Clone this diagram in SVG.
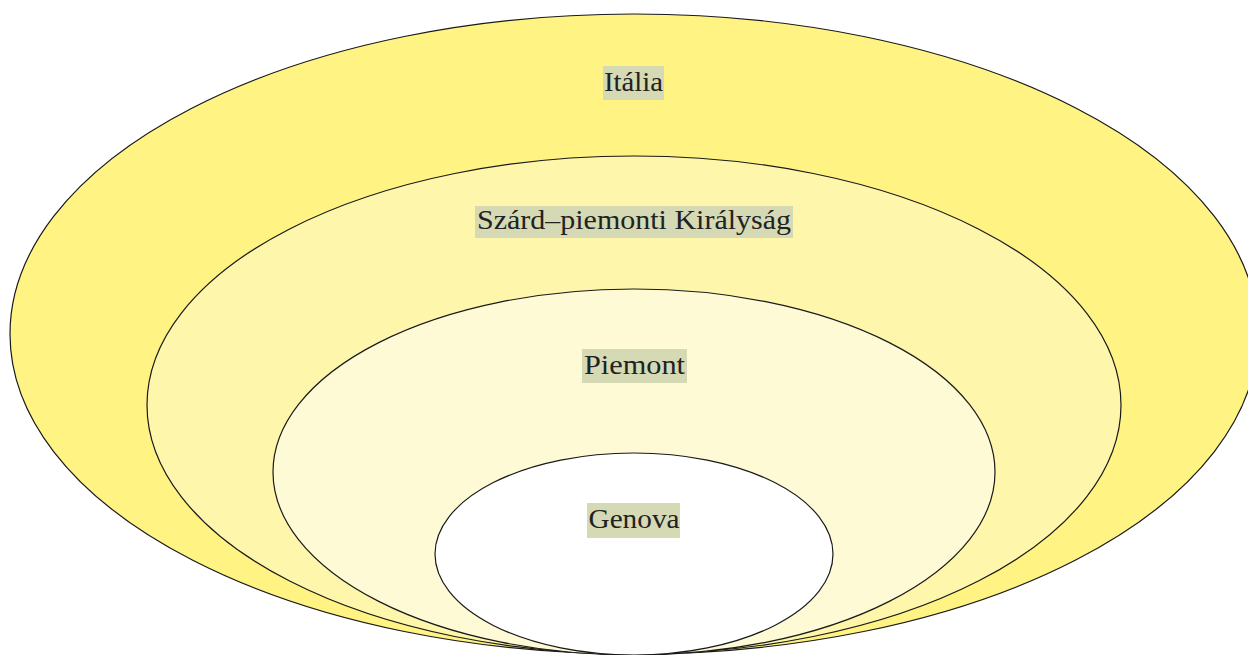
<svg xmlns="http://www.w3.org/2000/svg" width="1248" height="655" viewBox="0 0 1248 655">
<style>
.ring{stroke:#1a1a1a;stroke-width:1.2}
.lbl{fill:#d5d9b4}
.t{font-family:"Liberation Serif","DejaVu Serif",serif;font-size:28px;fill:#222;text-anchor:middle}
</style>
<rect width="1248" height="655" fill="#fff"/>
<g id="italia">
<ellipse class="ring" cx="634" cy="334" rx="624" ry="320" fill="#fff383"/>
</g>
<g id="szard">
<ellipse class="ring" cx="634" cy="405" rx="487" ry="249" fill="#fef6aa"/>
</g>
<g id="piemont">
<ellipse class="ring" cx="634" cy="472" rx="361" ry="183" fill="#fffad6"/>
</g>
<g id="genova">
<ellipse class="ring" cx="634" cy="554" rx="199" ry="101" fill="#fff"/>
</g>
<g id="labels">
<rect class="lbl" x="603" y="66" width="61" height="34"/>
<text class="t" x="633.5" y="91" textLength="59" lengthAdjust="spacingAndGlyphs">Itália</text>
<rect class="lbl" x="475" y="206" width="318" height="32"/>
<text class="t" x="634" y="229" textLength="314" lengthAdjust="spacingAndGlyphs">Szárd–piemonti Királyság</text>
<rect class="lbl" x="582" y="349" width="105" height="34"/>
<text class="t" x="634.5" y="374" textLength="101" lengthAdjust="spacingAndGlyphs">Piemont</text>
<rect class="lbl" x="587" y="503" width="93" height="35"/>
<text class="t" x="634" y="528" textLength="91" lengthAdjust="spacingAndGlyphs">Genova</text>
</g>
</svg>
